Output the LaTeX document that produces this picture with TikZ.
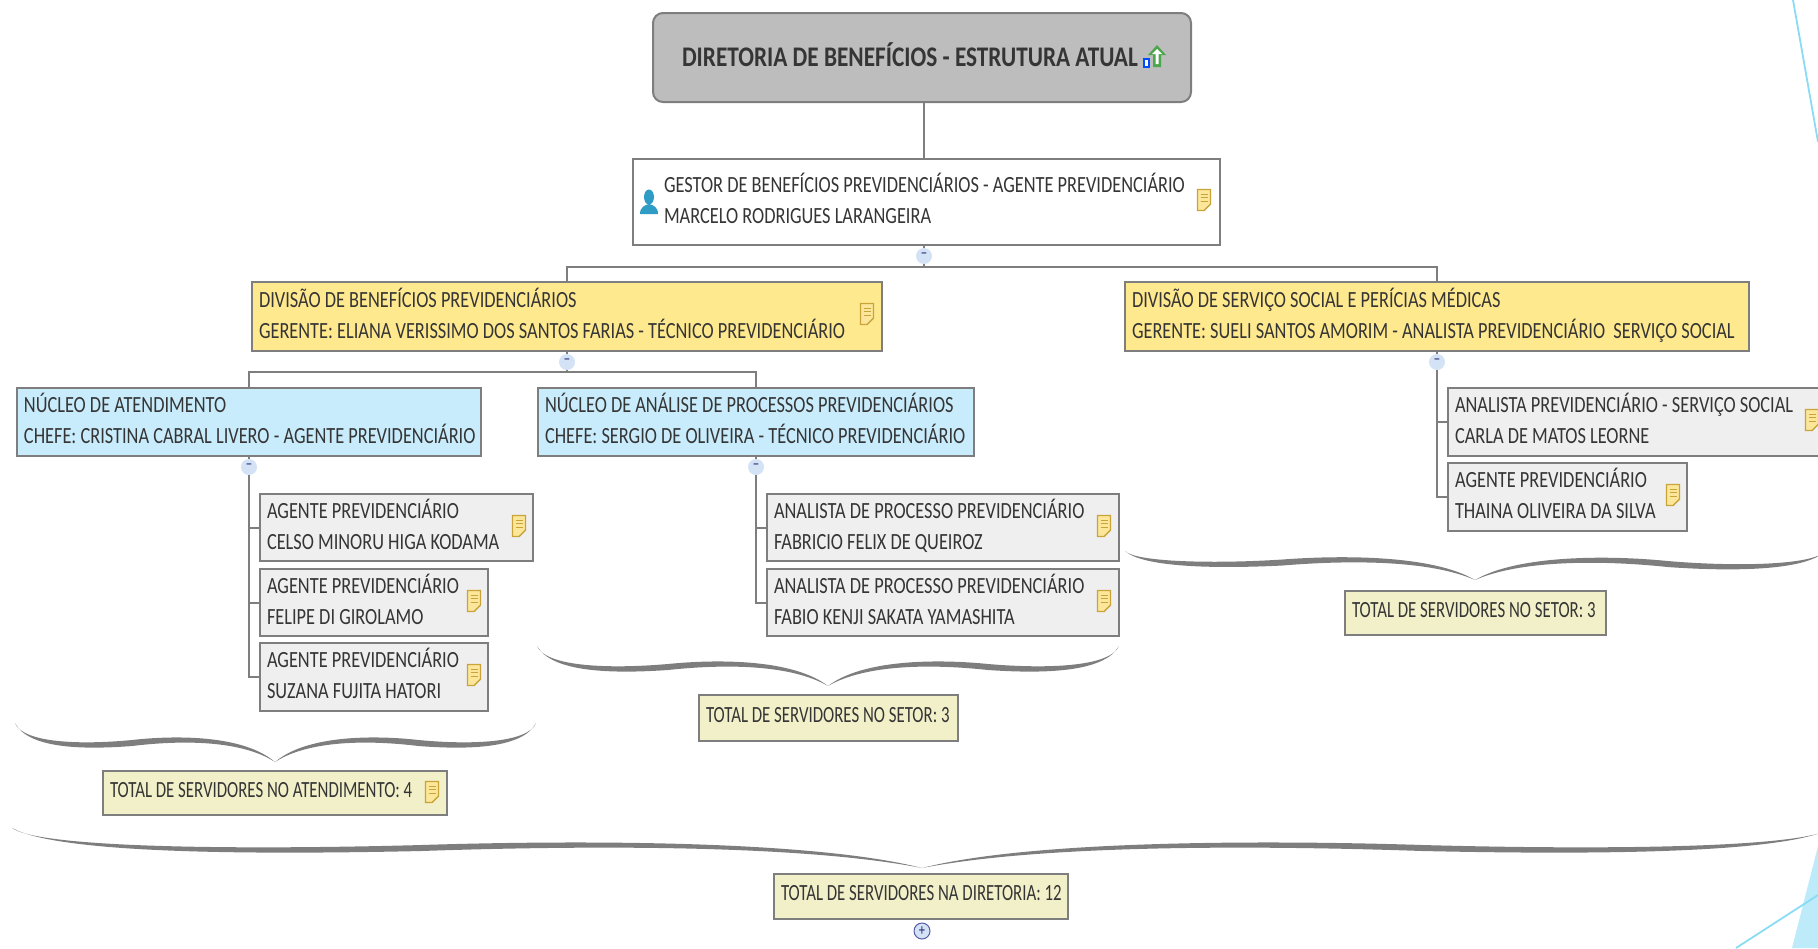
\documentclass[tikz,border=0pt]{standalone}
\usepackage{fontspec}
\setmainfont[FakeStretch=0.79]{Carlito}
\newfontfamily\totalfont[FakeStretch=0.725]{Carlito}
\newfontfamily\rootfont[FakeStretch=0.82]{Carlito}
\usetikzlibrary{backgrounds}
\definecolor{edgegray}{HTML}{7E7E7E}
\definecolor{txt}{HTML}{353535}
\definecolor{fillgray}{HTML}{EFEFEF}
\definecolor{fillyel}{HTML}{FFE98F}
\definecolor{fillblue}{HTML}{C9ECFC}
\definecolor{fillbeige}{HTML}{F2F0C9}
\definecolor{fillroot}{HTML}{BDBDBD}
\definecolor{skyline}{HTML}{8ADCF5}
\definecolor{skyfill}{HTML}{BDEBFA}
\definecolor{togglefill}{HTML}{D3E2F4}
\definecolor{noteedge}{HTML}{C9A43A}
\definecolor{notefill}{HTML}{FBE69A}
\definecolor{usercol}{HTML}{2E9CC4}
\definecolor{upcol}{HTML}{4CA64C}
\tikzset{
  basebox/.style={draw=edgegray,line width=1pt,inner sep=0pt,outer sep=0pt},
  graybox/.style={basebox,fill=fillgray},
  yelbox/.style={basebox,fill=fillyel},
  bluebox/.style={basebox,fill=fillblue},
  beigebox/.style={basebox,fill=fillbeige},
  whitebox/.style={basebox,fill=white},
  rootbox/.style={basebox,fill=fillroot,rounded corners=5pt},
  lblopt/.style={text height=25.1pt,text depth=0pt},
  boxlabel/.style={anchor=west,inner sep=0pt,outer sep=0pt,align=left,text=txt,
    font=\fontsize{11.6}{15.6}\selectfont,lblopt},
  link/.style={draw=edgegray,line width=1pt},
  toggle/.style={circle,draw=none,fill=togglefill,minimum size=8pt,inner sep=0pt,text=txt!70!blue,font=\fontsize{8}{8}\selectfont},
  noteicon/.pic={
    \draw[draw=noteedge,fill=notefill,line width=.7pt]
      (-6.5,-10.5) -- (6.5,-10.5) -- (6.5,4) -- (0,10.5) -- (-6.5,10.5) -- cycle;
    \draw[draw=noteedge,line width=.5pt] (-3.5,-6) -- (3.5,-6) (-3.5,-2.5) -- (3.5,-2.5) (-3.5,1) -- (3.5,1);
  },
  usericon/.pic={
    \fill[fill=usercol] (0,-5) ellipse (5 and 7.5);
    \fill[fill=usercol] (-9,12) .. controls (-9,5) and (-4,3) .. (0,2) .. controls (4,3) and (9,5) .. (9,12) -- cycle;
  },
  upicon/.pic={
    \fill[fill=upcol] (0,-12) -- (9,-2) -- (4,-2) -- (4,10) -- (-4,10) -- (-4,-2) -- (-9,-2) -- cycle;
    \fill[fill=white] (0,-8) -- (5,-3) -- (1.5,-3) -- (1.5,7) -- (-1.5,7) -- (-1.5,-3) -- (-5,-3) -- cycle;
    \draw[draw=blue!70!cyan,fill=white,line width=.8pt] (-13,2) rectangle (-8,10);
  },
}
% box: [text offset in px], name, style, x1, y1, x2, y2, text
\newcommand{\bx}[8][7]{%
  \pgfmathsetmacro{\bxw}{(#6-#4)*0.5}%
  \pgfmathsetmacro{\bxh}{(#7-#5)*0.5}%
  \pgfmathsetmacro{\bxo}{#1*0.5}%
  \node[#3,minimum width=\bxw pt,minimum height=\bxh pt] (#2) at ({(#4+#6)/2},{(#5+#7)/2}) {};%
  \node[boxlabel] (#2text) at ([xshift=\bxo pt,yshift=1.6pt]#2.west) {#8};%
}
% half of a curly brace: x0,y0 outer end; xt,yt tip; low level; high level
\newcommand{\wavehalf}[6]{%
  \pgfmathsetmacro{\wL}{#3-#1}%
  \pgfmathsetmacro{\wAx}{#1+.45*\wL}%
  \pgfmathsetmacro{\wAy}{(#5+#6)/2}%
  \fill[fill=edgegray] (#1,#2)
    .. controls ({#1+.03*\wL},{#5-1}) and ({#1+.25*\wL},{#5+1}) .. (\wAx,\wAy)
    .. controls ({#1+.62*\wL},{#6-1}) and ({#3-.12*\wL},{#6-1}) .. (#3,#4)
    .. controls ({#3-.13*\wL},{#6+4}) and ({#1+.64*\wL},{#6+4}) .. (\wAx,{\wAy+6})
    .. controls ({#1+.25*\wL},{#5+6}) and ({#1+.05*\wL},{#5+4}) .. (#1,#2) -- cycle;%
}
\begin{document}
\begin{tikzpicture}[x=0.5pt,y=-0.5pt]
\useasboundingbox (0,0) rectangle (1818,948);
\clip (0,0) rectangle (1818,948);

% decorative slide lines at the right edge
\fill[skyfill] (1792,948) -- (1818,846) -- (1818,948) -- cycle;
\draw[skyline,line width=.9pt] (1793,0) -- (1818,142);
\draw[skyline,line width=.9pt] (1736,948) -- (1818,895);

% two-line boxes
\bx[31]{gest}{whitebox}{633}{159}{1220}{245}{GESTOR DE BENEFÍCIOS PREVIDENCIÁRIOS - AGENTE PREVIDENCIÁRIO\\MARCELO RODRIGUES LARANGEIRA}
\bx{d1}{yelbox}{252}{282}{882}{351}{DIVISÃO DE BENEFÍCIOS PREVIDENCIÁRIOS\\GERENTE: ELIANA VERISSIMO DOS SANTOS FARIAS - TÉCNICO PREVIDENCIÁRIO}
\bx{d2}{yelbox}{1125}{282}{1749}{351}{DIVISÃO DE SERVIÇO SOCIAL E PERÍCIAS MÉDICAS\\GERENTE: SUELI SANTOS AMORIM - ANALISTA PREVIDENCIÁRIO\ \ SERVIÇO SOCIAL}
\bx{n1}{bluebox}{17}{388}{481}{456}{NÚCLEO DE ATENDIMENTO\\CHEFE: CRISTINA CABRAL LIVERO - AGENTE PREVIDENCIÁRIO}
\bx{n2}{bluebox}{538}{388}{974}{456}{NÚCLEO DE ANÁLISE DE PROCESSOS PREVIDENCIÁRIOS\\CHEFE: SERGIO DE OLIVEIRA - TÉCNICO PREVIDENCIÁRIO}
\bx{a1}{graybox}{260}{494}{533}{561}{AGENTE PREVIDENCIÁRIO\\CELSO MINORU HIGA KODAMA}
\bx{a2}{graybox}{260}{569}{488}{636}{AGENTE PREVIDENCIÁRIO\\FELIPE DI GIROLAMO}
\bx{a3}{graybox}{260}{643}{488}{711}{AGENTE PREVIDENCIÁRIO\\SUZANA FUJITA HATORI}
\bx{p1}{graybox}{767}{494}{1119}{561}{ANALISTA DE PROCESSO PREVIDENCIÁRIO\\FABRICIO FELIX DE QUEIROZ}
\bx{p2}{graybox}{767}{569}{1119}{636}{ANALISTA DE PROCESSO PREVIDENCIÁRIO\\FABIO KENJI SAKATA YAMASHITA}
\bx{s1}{graybox}{1448}{388}{1830}{456}{ANALISTA PREVIDENCIÁRIO - SERVIÇO SOCIAL\\CARLA DE MATOS LEORNE}
\bx{s2}{graybox}{1448}{463}{1687}{531}{AGENTE PREVIDENCIÁRIO\\THAINA OLIVEIRA DA SILVA}

% one-line boxes
\tikzset{lblopt/.style={}}
\bx[29]{root}{rootbox}{653}{13}{1191}{102}{\rootfont\fontsize{14.2}{16}\selectfont\bfseries DIRETORIA DE BENEFÍCIOS - ESTRUTURA ATUAL}
\bx{t1}{beigebox}{103}{771}{447}{815}{\totalfont TOTAL DE SERVIDORES NO ATENDIMENTO: 4}
\bx{t2}{beigebox}{699}{695}{958}{741}{\totalfont TOTAL DE SERVIDORES NO SETOR: 3}
\bx{t3}{beigebox}{1345}{591}{1606}{635}{\totalfont TOTAL DE SERVIDORES NO SETOR: 3}
\bx{t4}{beigebox}{774}{874}{1068}{919}{\totalfont TOTAL DE SERVIDORES NA DIRETORIA: 12}

% toggles
\node[toggle] (c0) at (924,256) {−};
\node[toggle] (c1) at (567,362) {−};
\node[toggle] (c2) at (1437,362) {−};
\node[toggle] (c3) at (249,467) {−};
\node[toggle] (c4) at (756,467) {−};
\node[toggle,draw=edgegray!70!blue,line width=.5pt] (c6) at (922,931) {+};
\coordinate (busa) at (0,267);
\coordinate (busb) at (0,372);

\begin{pgfonlayer}{background}
  \draw[link] (root.south -| c0) -- (gest.north -| c0);
  \draw[link] (gest.south -| c0) -- (c0 |- busa);
  \draw[link] (d1.north -| c1) -- (c1 |- busa) -- (c2 |- busa) -- (d2.north -| c2);
  \draw[link] (d1.south -| c1) -- (c1 |- busb);
  \draw[link] (n1.north -| c3) -- (c3 |- busb) -- (c4 |- busb) -- (n2.north -| c4);
  \draw[link] (d2.south -| c2) -- (s2.west -| c2) -- (s2.west);
  \draw[link] (s1.west -| c2) -- (s1.west);
  \draw[link] (n1.south -| c3) -- (a3.west -| c3) -- (a3.west);
  \draw[link] (a1.west -| c3) -- (a1.west);
  \draw[link] (a2.west -| c3) -- (a2.west);
  \draw[link] (n2.south -| c4) -- (p2.west -| c4) -- (p2.west);
  \draw[link] (p1.west -| c4) -- (p1.west);
\end{pgfonlayer}

% braces
\wavehalf{15}{723}{275}{762}{744}{736}
\wavehalf{536}{723}{275}{762}{744}{736}
\wavehalf{537}{646}{828}{686}{668}{660}
\wavehalf{1119}{646}{828}{686}{668}{660}
\wavehalf{1125}{551}{1475}{580}{563}{556}
\wavehalf{1825}{551}{1475}{580}{566}{556}
\wavehalf{12}{828}{922}{868}{849}{841}
\wavehalf{1832}{828}{922}{868}{849}{841}

% icons
\pic at (1157,57) {upicon};
\pic at (649,202) {usericon};
\pic at (1204,200) {noteicon};
\pic at (867,314) {noteicon};
\pic at (519,526) {noteicon};
\pic at (474,601) {noteicon};
\pic at (474,675) {noteicon};
\pic at (1104,526) {noteicon};
\pic at (1104,601) {noteicon};
\pic at (1812,420) {noteicon};
\pic at (1673,495) {noteicon};
\pic at (432,792) {noteicon};
\end{tikzpicture}
\end{document}
